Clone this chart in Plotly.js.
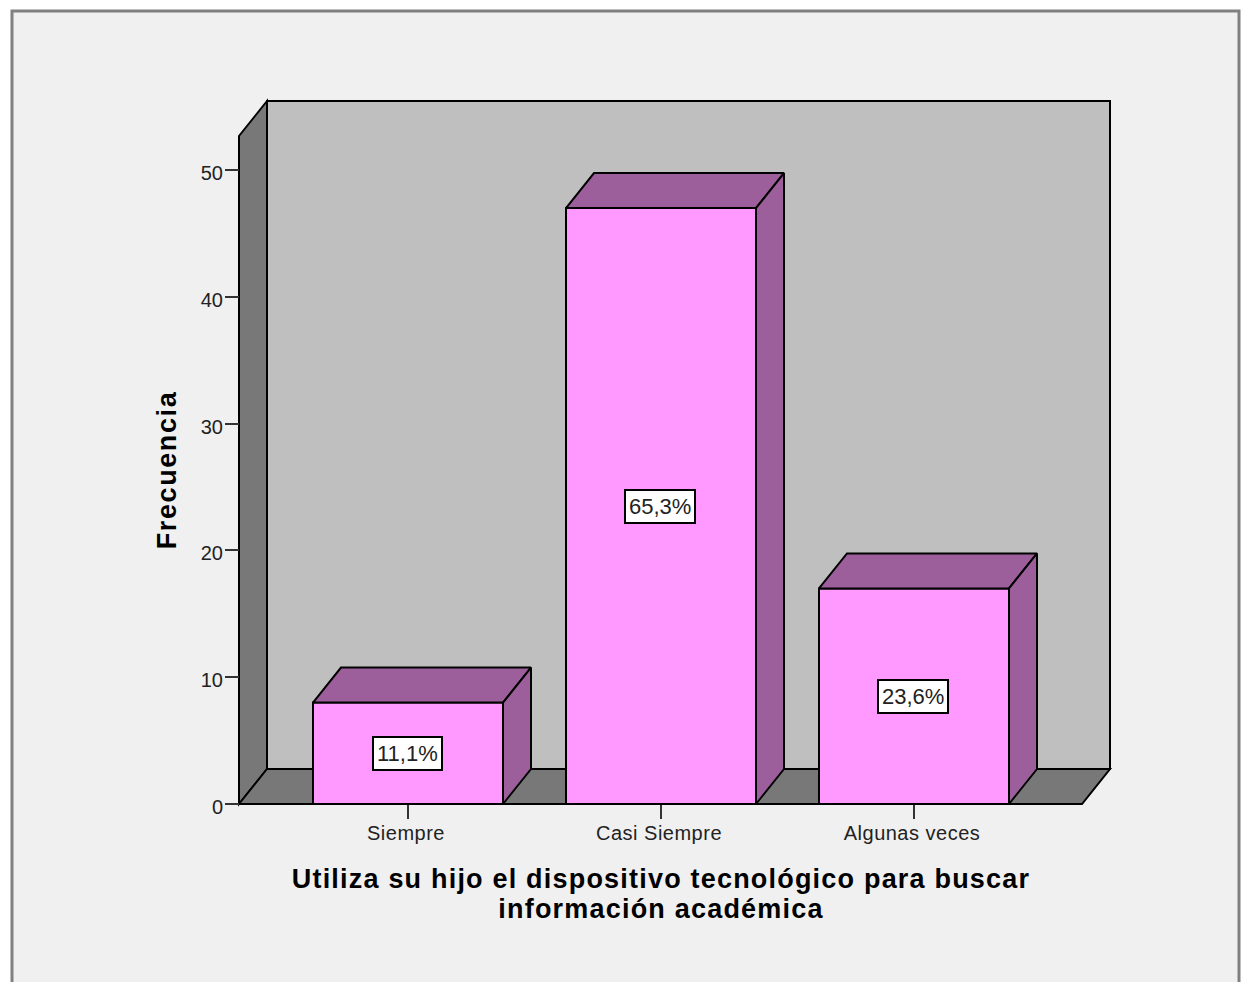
<!DOCTYPE html>
<html>
<head>
<meta charset="utf-8">
<script src="https://cdn.plot.ly/plotly-3.0.1.min.js"></script>
<style>
html,body{margin:0;padding:0;background:#fff;overflow:hidden}
.xtitle{letter-spacing:1.2px}
.ytitle{letter-spacing:1.6px}
.xtick text{letter-spacing:.5px}
</style>
</head>
<body>
<div id="chart" style="width:1241px;height:982px"></div>
<script>
const categories = ["Siempre", "Casi Siempre", "Algunas veces"];
const frecuencia = [8, 47, 17];
const porcentajes = ["11,1%", "65,3%", "23,6%"];
const yTicks = [0, 10, 20, 30, 40, 50];

const W = 1241, H = 982;
// pixel calibration of the axes
const x0px = 408, xStep = 253, y0px = 804, yUnit = 12.68;
const xpx = p => (p - x0px) / xStep;
const ypx = p => (y0px - p) / yUnit;
const barW = 190 / xStep;
const dX = 28 / xStep, dY = 35 / yUnit;           // 3D depth
const wallL = xpx(239), wallR = xpx(1082), wallT = ypx(136);

const FRONT = "#ff99ff", SHADE = "#9c5f9c", WALL = "#bfbfbf", SIDE = "#787878", BG = "#f0f0f0";
const edge = {color: "#000", width: 2};

function face(xs, ys) {
  return {type: "scatter", mode: "lines", x: xs, y: ys, fill: "toself", fillcolor: SHADE,
          line: edge, hoverinfo: "skip", showlegend: false, cliponaxis: false};
}
const idx = categories.map((_, i) => i);
const traces = [{
  type: "bar", x: idx, y: frecuencia, width: barW,
  marker: {color: FRONT, line: edge}, hoverinfo: "x+y", showlegend: false, cliponaxis: false
}];
frecuencia.forEach((v, i) => {
  const l = i - barW / 2, r = i + barW / 2;
  traces.push(face([l, l + dX, r + dX, r, l], [v, v + dY, v + dY, v, v]));
  traces.push(face([r, r + dX, r + dX, r, r], [0, dY, v + dY, v, 0]));
});

function poly(pts, fill) {
  return {type: "path", xref: "x", yref: "y", layer: "below", fillcolor: fill,
          line: edge, path: "M" + pts.map(p => p.join(",")).join("L") + "Z"};
}
const shapes = [
  {type: "rect", xref: "paper", yref: "paper", layer: "below",
   x0: 12 / W, x1: 1239 / W, y0: -0.02, y1: 1 - 11 / H,
   fillcolor: BG, line: {color: "#808080", width: 3}},
  poly([[wallL + dX, dY], [wallR + dX, dY], [wallR + dX, wallT + dY], [wallL + dX, wallT + dY]], WALL),
  poly([[wallL, 0], [wallL + dX, dY], [wallL + dX, wallT + dY], [wallL, wallT]], SIDE),
  poly([[wallL, 0], [wallR, 0], [wallR + dX, dY], [wallL + dX, dY]], SIDE)
];
const annotations = frecuencia.map((v, i) => ({
  x: i, y: v / 2, xref: "x", yref: "y", text: porcentajes[i], showarrow: false, xshift: -1,
  bgcolor: "#fff", bordercolor: "#000", borderwidth: 2, borderpad: 3,
  font: {family: "Liberation Sans", size: 22, color: "#222"}
}));

const layout = {
  width: W, height: H,
  margin: {l: 0, r: 0, t: 0, b: 0},
  paper_bgcolor: "#fff", plot_bgcolor: "rgba(0,0,0,0)",
  barmode: "overlay", showlegend: false,
  shapes, annotations,
  xaxis: {
    domain: [197 / W, 1125 / W], range: [xpx(197), xpx(1125)],
    anchor: "free", position: 1 - 804 / H,
    tickmode: "array", tickvals: idx, ticktext: categories,
    ticks: "outside", ticklen: 14, tickwidth: 2, tickcolor: "#333",
    ticklabelstandoff: -3, ticklabelshift: -2,
    showgrid: false, zeroline: false, showline: false,
    tickfont: {family: "Liberation Sans", size: 20, color: "#222"},
    title: {text: "Utiliza su hijo el dispositivo tecnológico para buscar<br>información académica",
            standoff: 26, font: {family: "Liberation Sans", size: 27, color: "#000", weight: 700}}
  },
  yaxis: {
    domain: [1 - 850 / H, 1 - 90 / H], range: [ypx(850), ypx(90)],
    anchor: "free", position: 239 / W,
    tickmode: "array", tickvals: yTicks, ticktext: yTicks.map(String),
    ticks: "outside", ticklen: 14, tickwidth: 2, tickcolor: "#333",
    ticklabelstandoff: -2, ticklabelshift: 3,
    showgrid: false, zeroline: false, showline: false,
    tickfont: {family: "Liberation Sans", size: 20, color: "#222"},
    title: {text: "Frecuencia", standoff: 15,
            font: {family: "Liberation Sans", size: 27, color: "#000", weight: 700}}
  }
};
Plotly.newPlot("chart", traces, layout, {displayModeBar: false}).then(() => {
  // tighter leading between the two lines of the axis title, as in the source chart
  document.querySelectorAll(".xtitle tspan.line").forEach((t, i) => { if (i > 0) t.setAttribute("dy", "1.08em"); });
});
</script>
</body>
</html>
